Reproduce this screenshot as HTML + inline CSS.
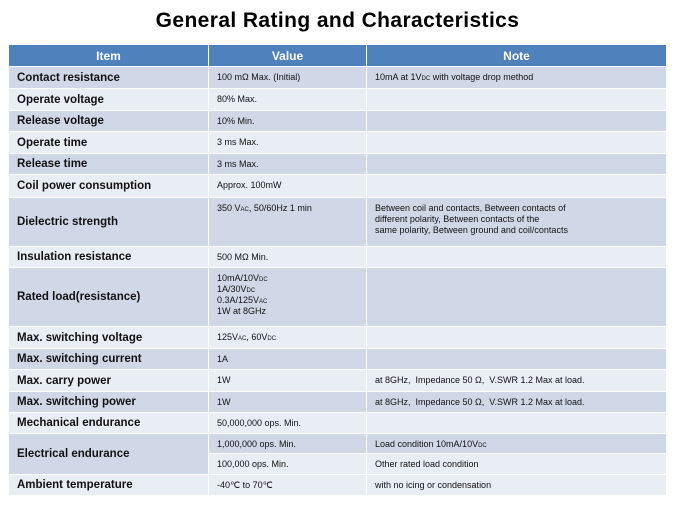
<!DOCTYPE html>
<html><head><meta charset="utf-8"><style>
body{margin:0;width:675px;height:506px;background:#fff;position:relative;font-family:"Liberation Sans",sans-serif;overflow:hidden}
.t{position:absolute;left:0;width:675px;top:9px;text-align:center;font-weight:bold;font-size:21px;letter-spacing:0.4px;color:#000}
.c{position:absolute;box-sizing:border-box;display:flex;align-items:center;padding-left:8px;color:#111}
.c>div{display:block}
.h{background:#4F81BD;color:#fff;font-weight:bold;font-size:12px;justify-content:center;padding:0}
.d{background:#D0D8E8}.l{background:#E9EDF4}
.i{font-weight:bold;font-size:11.5px}
.v{font-size:9px;line-height:11px;align-items:flex-start;padding-top:5px}
sub{font-size:6px;vertical-align:baseline;line-height:0}
</style></head><body>
<div class="t">General Rating and Characteristics</div>
<div id="tb"></div>
<script>
const X=[9,208,366,666];
const rows=[
[45,66,'h','Item','Value','Note'],
[67,88,'d','Contact resistance','100 mΩ Max. (Initial)','10mA at 1V<sub>DC</sub> with voltage drop method'],
[89,110,'l','Operate voltage','80% Max.',''],
[111,131,'d','Release voltage','10% Min.',''],
[132,153,'l','Operate time','3 ms Max.',''],
[154,174,'d','Release time','3 ms Max.',''],
[175,197,'l','Coil power consumption','Approx. 100mW',''],
[198,246,'d','Dielectric strength','350 V<sub>AC</sub>, 50/60Hz 1 min','Between coil and contacts, Between contacts of<br>different polarity, Between contacts of the<br>same polarity, Between ground and coil/contacts'],
[247,267,'l','Insulation resistance','500 MΩ Min.',''],
[268,326,'d','Rated load(resistance)','10mA/10V<sub>DC</sub><br>1A/30V<sub>DC</sub><br>0.3A/125V<sub>AC</sub><br>1W at 8GHz',''],
[327,348,'l','Max. switching voltage','125V<sub>AC</sub>, 60V<sub>DC</sub>',''],
[349,369,'d','Max. switching current','1A',''],
[370,391,'l','Max. carry power','1W','at 8GHz,&nbsp; Impedance 50 Ω,&nbsp; V.SWR 1.2 Max at load.'],
[392,412,'d','Max. switching power','1W','at 8GHz,&nbsp; Impedance 50 Ω,&nbsp; V.SWR 1.2 Max at load.'],
[413,433,'l','Mechanical endurance','50,000,000 ops. Min.',''],
[434,453,'d',null,'1,000,000 ops. Min.','Load condition 10mA/10V<sub>DC</sub>'],
[454,474,'l',null,'100,000 ops. Min.','Other rated load condition'],
[475,495,'l','Ambient temperature','-40℃ to 70℃','with no icing or condensation'],
];
let h='';
for(const r of rows){
 const [y0,y1,cl,a,b,c]=r;const H=y1-y0;
 const cells=[a,b,c];
 for(let k=0;k<3;k++){
  if(cells[k]===null)continue;
  const x0=X[k]+(k?1:0),w=X[k+1]-x0;
  let cls='c '+(cl=='h'?'h':cl+(k==0?' i':' v'));
  h+=`<div class="${cls}" style="left:${x0}px;top:${y0}px;width:${w}px;height:${H}px"><div>${cells[k]}</div></div>`;
 }
}
h+=`<div class="c d i" style="left:9px;top:434px;width:199px;height:40px"><div>Electrical endurance</div></div>`;
document.getElementById('tb').innerHTML=h;
</script>
</body></html>
